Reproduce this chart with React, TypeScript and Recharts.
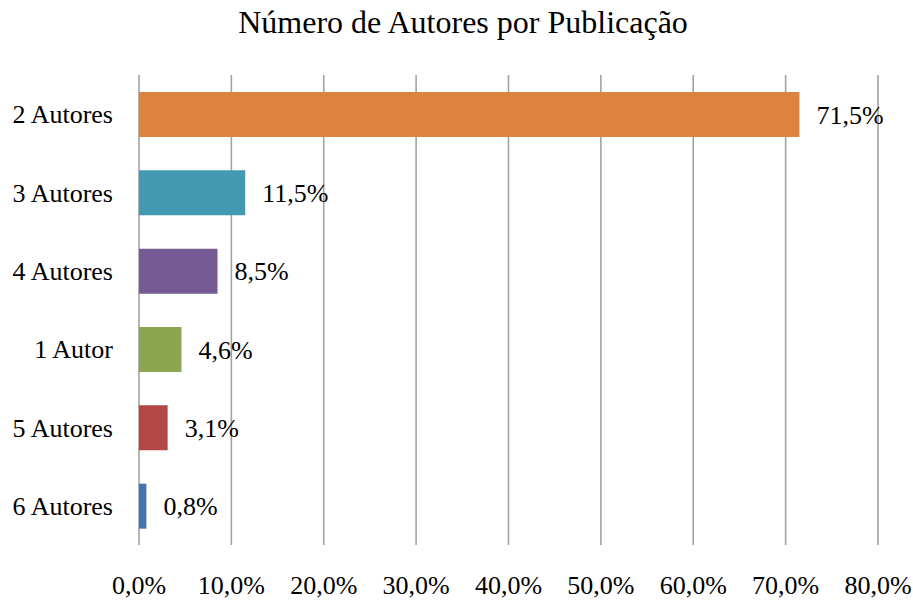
import { FC } from "react";
import {
  BarChart,
  Bar,
  XAxis,
  YAxis,
  CartesianGrid,
  Cell,
  LabelList,
} from "recharts";

const categories = [
  "2 Autores",
  "3 Autores",
  "4 Autores",
  "1 Autor",
  "5 Autores",
  "6 Autores",
];
const shares = [71.5, 11.5, 8.5, 4.6, 3.1, 0.8];
const barColors = [
  "#dc843f",
  "#4299b1",
  "#765a93",
  "#8ca64f",
  "#b24745",
  "#4373b2",
];
const xTicks = [0, 10, 20, 30, 40, 50, 60, 70, 80];

const FONT = "'Liberation Serif', 'Times New Roman', serif";

const pct = (v: number) => `${v.toFixed(1).replace(".", ",")}%`;

const App: FC = () => {
  const data = categories.map((name, i) => ({ name, value: shares[i] }));

  return (
    <div
      style={{
        position: "absolute",
        left: 0,
        top: 0,
        width: 913,
        height: 601,
        background: "#fff",
        fontFamily: FONT,
      }}
    >
      <div
        style={{
          position: "absolute",
          top: 3,
          left: 0,
          width: 926,
          textAlign: "center",
          fontSize: 32,
          lineHeight: "38px",
          color: "#000",
        }}
      >
        Número de Autores por Publicação
      </div>
      <BarChart
        width={913}
        height={601}
        data={data}
        layout="vertical"
        margin={{ top: 75, right: 35, left: 0, bottom: 0 }}
        barSize={45}
      >
        <CartesianGrid
          horizontal={false}
          stroke="#a3a3a3"
          strokeWidth={1.6}
        />
        <XAxis
          type="number"
          domain={[0, 80]}
          ticks={xTicks}
          tickFormatter={pct}
          height={56}
          axisLine={false}
          tickLine={false}
          tickSize={0}
          tickMargin={31}
          tick={{ fill: "#000", fontSize: 26, fontFamily: FONT }}
        />
        <YAxis
          type="category"
          dataKey="name"
          width={139}
          axisLine={false}
          tickLine={false}
          tickSize={0}
          tickMargin={26}
          tick={{ fill: "#000", fontSize: 26, fontFamily: FONT }}
        />
        <Bar dataKey="value" isAnimationActive={false}>
          {data.map((entry, index) => (
            <Cell key={`cell-${entry.name}`} fill={barColors[index]} />
          ))}
          <LabelList
            dataKey="value"
            position="right"
            offset={17}
            formatter={(v: any) => pct(Number(v))}
            fill="#000"
            fontSize={26}
            fontFamily={FONT}
          />
        </Bar>
      </BarChart>
    </div>
  );
};

export default App;
